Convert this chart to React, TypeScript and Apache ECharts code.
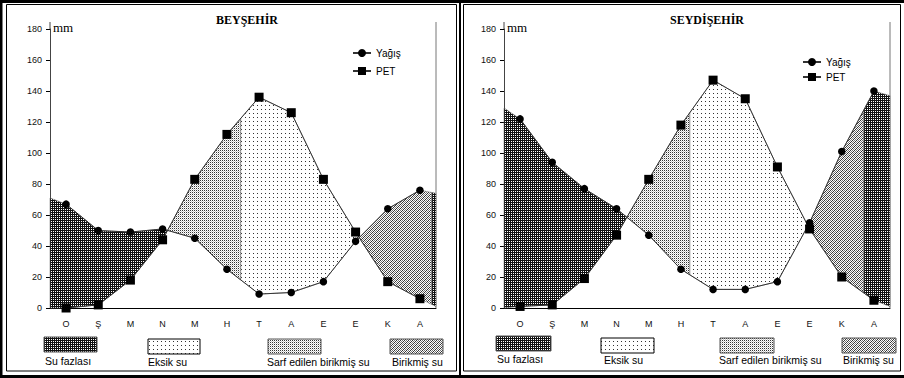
import React, { useEffect, useRef } from 'react';
import * as echarts from 'echarts';

// ---------- data ----------
const MONTHS = ['O', 'Ş', 'M', 'N', 'M', 'H', 'T', 'A', 'E', 'E', 'K', 'A'];

const BEY_YAGIS = [67, 50, 49, 51, 45, 25, 9, 10, 17, 43, 64, 76];
const BEY_PET = [0, 2, 18, 44, 83, 112, 136, 126, 83, 49, 17, 6];
// where the filled band meets the left / right frame of the plot
const BEY_EDGE_YAGIS = [71, 74];
const BEY_EDGE_PET = [0, 1];
// vertical limits (in month units) of "Sarf edilen" and "Birikmiş su" zones
const BEY_DIVIDERS = [5.93, 11.87];

const SEY_YAGIS = [122, 94, 77, 64, 47, 25, 12, 12, 17, 55, 101, 140];
const SEY_PET = [1, 2, 19, 47, 83, 118, 147, 135, 91, 51, 20, 5];
const SEY_EDGE_YAGIS = [129, 137];
const SEY_EDGE_PET = [0, 1];
const SEY_DIVIDERS = [5.78, 11.19];

const ZONE_NAMES = ['Su fazlası', 'Eksik su', 'Sarf edilen birikmiş su', 'Birikmiş su'];
const LINE_NAMES = ['Yağış', 'PET'];

// ---------- layout ----------
const W = 904;
const H = 378;
const GRID_TOP = 29;
const GRID_H = 279;
const GRID_W = 386;
const SANS = 'Liberation Sans, Arial, sans-serif';
const SERIF = 'Liberation Serif, Times New Roman, serif';

const PANELS = [
  {
    title: 'BEYŞEHİR', yagis: BEY_YAGIS, pet: BEY_PET, edgeY: BEY_EDGE_YAGIS, edgeP: BEY_EDGE_PET,
    dividers: BEY_DIVIDERS, gridLeft: 50, titleX: 247, legendLeft: 352, legendTop: 48, legendGap: 8,
    swatchX: [44, 148, 268, 390], swatchY: [337, 339, 339, 339], swatchW: [53, 52, 53, 53],
    labelX: [45, 148, 267, 392], labelY: [361, 362, 362, 362],
  },
  {
    title: 'SEYDİŞEHİR', yagis: SEY_YAGIS, pet: SEY_PET, edgeY: SEY_EDGE_YAGIS, edgeP: SEY_EDGE_PET,
    dividers: SEY_DIVIDERS, gridLeft: 504, titleX: 707, legendLeft: 802, legendTop: 57, legendGap: 5,
    swatchX: [496, 601, 720, 842], swatchY: [336, 338, 338, 338], swatchW: [55, 53, 54, 54],
    labelX: [497, 604, 719, 843], labelY: [359, 360, 360, 360],
  },
];

function makePattern(w: number, h: number, draw: (ctx: CanvasRenderingContext2D) => void) {
  const c = document.createElement('canvas');
  c.width = w;
  c.height = h;
  const ctx = c.getContext('2d') as CanvasRenderingContext2D;
  ctx.fillStyle = '#ffffff';
  ctx.fillRect(0, 0, w, h);
  draw(ctx);
  return { image: c.toDataURL(), repeat: 'repeat', imageWidth: w, imageHeight: h } as any;
}

function buildPatterns() {
  const fazla = makePattern(2, 2, (ctx) => {
    ctx.fillStyle = '#111';
    ctx.fillRect(0, 0, 1, 2);
    ctx.fillRect(1, 0, 1, 1);
  });
  const eksik = makePattern(4, 4, (ctx) => {
    ctx.fillStyle = '#333';
    ctx.fillRect(1, 1, 1, 1);
  });
  const sarf = makePattern(2, 2, (ctx) => {
    ctx.fillStyle = '#333';
    ctx.fillRect(0, 0, 1, 1);
    ctx.fillStyle = '#c8c8c8';
    ctx.fillRect(1, 1, 1, 1);
  });
  const birikmis = makePattern(4, 4, (ctx) => {
    for (let x = 0; x < 4; x++) {
      for (let y = 0; y < 4; y++) {
        if ((x + y) % 2 === 0) {
          ctx.fillStyle = (x + y) % 4 === 0 ? '#333' : '#777';
          ctx.fillRect(x, y, 1, 1);
        }
      }
    }
  });
  return [fazla, eksik, sarf, birikmis];
}

function interp(xs: number[], ys: number[], x: number) {
  for (let i = 0; i < xs.length - 1; i++) {
    if (x >= xs[i] && x <= xs[i + 1]) {
      const t = (x - xs[i]) / (xs[i + 1] - xs[i]);
      return ys[i] + t * (ys[i + 1] - ys[i]);
    }
  }
  return ys[ys.length - 1];
}

function buildRegions(p: typeof PANELS[number]) {
  const xs = [0, ...p.yagis.map((_, i) => i + 0.5), 12];
  const top = [p.edgeY[0], ...p.yagis, p.edgeY[1]];
  const bot = [p.edgeP[0], ...p.pet, p.edgeP[1]];
  const crossings: number[] = [];
  for (let i = 0; i < xs.length - 1; i++) {
    const d0 = top[i] - bot[i];
    const d1 = top[i + 1] - bot[i + 1];
    if (d0 * d1 < 0) {
      const t = d0 / (d0 - d1);
      crossings.push(xs[i] + t * (xs[i + 1] - xs[i]));
    }
  }
  const bounds = [0, crossings[0], p.dividers[0], crossings[1], p.dividers[1], 12];
  const kinds = [0, 2, 1, 3, 0];
  const regions: { kind: number; points: number[][] }[] = [];
  for (let k = 0; k < kinds.length; k++) {
    const a = bounds[k];
    const b = bounds[k + 1];
    const seq = [a, ...xs.filter((x) => x > a && x < b), b];
    const pts = [
      ...seq.map((x) => [x, interp(xs, top, x)]),
      ...seq.slice().reverse().map((x) => [x, interp(xs, bot, x)]),
    ];
    regions.push({ kind: kinds[k], points: pts });
  }
  return regions;
}

export default function App() {
  const ref = useRef<HTMLDivElement>(null);

  useEffect(() => {
    document.body.style.margin = '0';
    if (!ref.current) return;
    const chart = echarts.init(ref.current, undefined, { renderer: 'svg', width: W, height: H });
    const patterns = buildPatterns();

    const grid: any[] = [];
    const xAxis: any[] = [];
    const yAxis: any[] = [];
    const series: any[] = [];
    const legend: any[] = [];
    const graphic: any[] = [];

    PANELS.forEach((p, i) => {
      const regions = buildRegions(p);
      grid.push({ left: p.gridLeft, top: GRID_TOP, width: GRID_W, height: GRID_H });
      xAxis.push({
        type: 'category', gridIndex: i, data: MONTHS, boundaryGap: true,
        axisLine: { lineStyle: { color: '#000', width: 1 } },
        axisTick: { length: 5, interval: 0, lineStyle: { color: '#000' } },
        axisLabel: { interval: 0, fontSize: 9, margin: 11, color: '#111', fontFamily: SANS },
        splitLine: { show: false },
      });
      xAxis.push({ type: 'value', gridIndex: i, min: 0, max: 12, show: false });
      yAxis.push({
        type: 'value', gridIndex: i, min: 0, max: 180, interval: 20,
        axisLine: { show: true, lineStyle: { color: '#444', width: 1 } },
        axisTick: { show: true, length: 4, lineStyle: { color: '#000' } },
        axisLabel: { fontSize: 9, margin: 8, color: '#111', fontFamily: SANS },
        splitLine: { show: false },
      });
      series.push({
        type: 'custom', name: 'zones' + i, xAxisIndex: 2 * i + 1, yAxisIndex: i, silent: true, z: 1,
        data: regions.map((r) => [r.points[0][0], r.points[0][1]]),
        renderItem: (params: any, api: any) => {
          const reg = regions[params.dataIndex];
          return {
            type: 'polygon',
            shape: { points: reg.points.map((pt) => api.coord(pt)) },
            style: { fill: patterns[reg.kind], stroke: '#666', lineWidth: 0.5 },
          };
        },
      });
      series.push({
        type: 'line', name: LINE_NAMES[0], xAxisIndex: 2 * i + 1, yAxisIndex: i, z: 3,
        data: p.yagis.map((v, k) => [k + 0.5, v]),
        symbol: 'circle', symbolSize: 7.5,
        itemStyle: { color: '#000' }, lineStyle: { color: '#333', width: 1 },
      });
      series.push({
        type: 'line', name: LINE_NAMES[1], xAxisIndex: 2 * i + 1, yAxisIndex: i, z: 3,
        data: p.pet.map((v, k) => [k + 0.5, v]),
        symbol: 'rect', symbolSize: 9,
        itemStyle: { color: '#000' }, lineStyle: { color: '#333', width: 1 },
      });
      legend.push({
        data: LINE_NAMES, orient: 'vertical', left: p.legendLeft, top: p.legendTop, padding: 0,
        itemWidth: 18, itemHeight: 10, itemGap: p.legendGap, selectedMode: false,
        textStyle: { fontSize: 10, color: '#000', fontFamily: SANS },
      });

      const gl = p.gridLeft;
      const gb = GRID_TOP + GRID_H;
      // axis extension and right frame line
      graphic.push({ type: 'line', shape: { x1: gl, y1: 22, x2: gl, y2: GRID_TOP }, style: { stroke: '#444', lineWidth: 1 } });
      graphic.push({ type: 'line', shape: { x1: gl + GRID_W, y1: 22, x2: gl + GRID_W, y2: gb }, style: { stroke: '#777', lineWidth: 1 } });
      graphic.push({
        type: 'text', x: p.titleX, y: 20,
        style: { text: p.title, font: 'bold 12px ' + SERIF, fill: '#000', align: 'center', verticalAlign: 'middle', textAlign: 'center', textVerticalAlign: 'middle' },
      });
      graphic.push({
        type: 'text', x: gl + 3, y: 27,
        style: { text: 'mm', font: '13px ' + SERIF, fill: '#000', align: 'left', verticalAlign: 'middle', textAlign: 'left', textVerticalAlign: 'middle' },
      });
      ZONE_NAMES.forEach((name, k) => {
        graphic.push({
          type: 'rect', shape: { x: p.swatchX[k], y: p.swatchY[k], width: p.swatchW[k], height: 15 },
          style: { fill: patterns[k], stroke: k === 1 ? '#000' : '#555', lineWidth: 1 },
        });
        graphic.push({
          type: 'text', x: p.labelX[k], y: p.labelY[k],
          style: { text: name, font: '10.5px ' + SANS, fill: '#000', align: 'left', verticalAlign: 'middle', textAlign: 'left', textVerticalAlign: 'middle' },
        });
      });
    });

    // frames
    graphic.push({ type: 'rect', shape: { x: 0, y: 0, width: W, height: 3 }, style: { fill: '#000' } });
    graphic.push({ type: 'rect', shape: { x: 0, y: H - 3, width: W, height: 3 }, style: { fill: '#000' } });
    graphic.push({ type: 'rect', shape: { x: 0, y: 0, width: 2.5, height: H }, style: { fill: '#000' } });
    graphic.push({ type: 'rect', shape: { x: 6.5, y: 4.5, width: 450, height: 366.5 }, style: { fill: 'none', stroke: '#000', lineWidth: 1 } });
    graphic.push({ type: 'rect', shape: { x: 463.5, y: 4.5, width: 437, height: 366.5 }, style: { fill: 'none', stroke: '#000', lineWidth: 1 } });
    graphic.push({ type: 'rect', shape: { x: 459, y: 0, width: 2, height: H }, style: { fill: '#000' } });

    chart.setOption({
      animation: false,
      backgroundColor: '#fff',
      grid, xAxis, yAxis, series, legend, graphic,
    });
    return () => chart.dispose();
  }, []);

  return <div ref={ref} style={{ width: W, height: H }} />;
}
